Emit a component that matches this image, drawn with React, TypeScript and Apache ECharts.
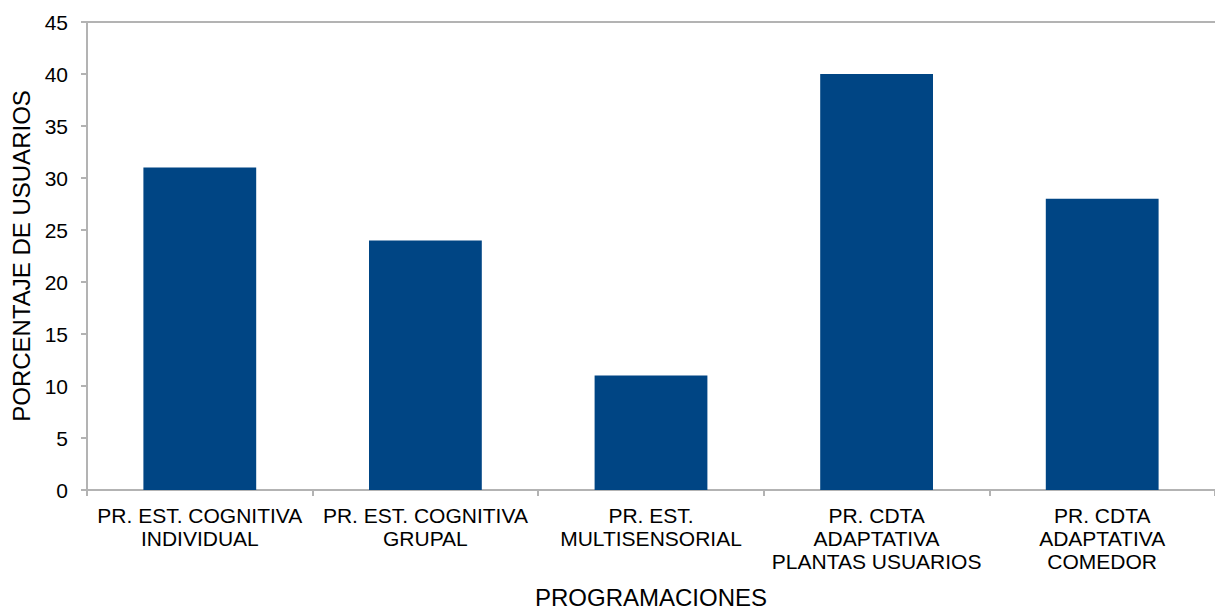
import React, { useEffect, useRef } from "react";
import * as echarts from "echarts";

const categories = [
  "PR. EST. COGNITIVA\nINDIVIDUAL",
  "PR. EST. COGNITIVA\nGRUPAL",
  "PR. EST.\nMULTISENSORIAL",
  "PR. CDTA\nADAPTATIVA\nPLANTAS USUARIOS",
  "PR. CDTA\nADAPTATIVA\nCOMEDOR",
];
const values = [31, 24, 11, 40, 28];
const yTicks = { min: 0, max: 45, interval: 5 };

export default function App() {
  const ref = useRef<HTMLDivElement>(null);
  useEffect(() => {
    if (!ref.current) return;
    const chart = echarts.init(ref.current, undefined, { renderer: "svg" });
    const font = "'Liberation Sans', Arial, sans-serif";
    const axisGray = "#b3b3b3";
    chart.setOption({
      animation: false,
      grid: { left: 87, top: 22, width: 1137.5, height: 473, containLabel: false },
      xAxis: [
        {
          type: "category",
          data: categories,
          position: "bottom",
          axisLine: { show: true, lineStyle: { color: axisGray, width: 2 } },
          axisTick: { show: true, length: 6, alignWithLabel: false, lineStyle: { color: axisGray, width: 2 } },
          axisLabel: { interval: 0, color: "#000", fontFamily: font, fontSize: 21, lineHeight: 23, margin: 14 },
          name: "PROGRAMACIONES",
          nameLocation: "middle",
          nameGap: 95,
          nameTextStyle: { color: "#000", fontFamily: font, fontSize: 24 },
        },
        {
          type: "category",
          data: categories,
          position: "top",
          axisLine: { show: true, lineStyle: { color: axisGray, width: 2 } },
          axisTick: { show: false },
          axisLabel: { show: false },
        },
      ],
      yAxis: {
        type: "value",
        min: yTicks.min,
        max: yTicks.max,
        interval: yTicks.interval,
        axisLine: { show: true, lineStyle: { color: axisGray, width: 2 } },
        axisTick: { show: true, length: 6, lineStyle: { color: axisGray, width: 2 } },
        splitLine: { show: false },
        axisLabel: { color: "#000", fontFamily: font, fontSize: 21, margin: 19 },
        name: "PORCENTAJE DE USUARIOS",
        nameLocation: "middle",
        nameGap: 53,
        nameTextStyle: { color: "#000", fontFamily: font, fontSize: 24 },
      },
      series: [
        { type: "bar", data: values, xAxisIndex: 0, barCategoryGap: "50%", itemStyle: { color: "#004584" } },
      ],
    });
    return () => chart.dispose();
  }, []);
  return (
    <div
      ref={ref}
      style={{ position: "absolute", left: 0, top: 0, width: 1215, height: 614, background: "#fff" }}
    />
  );
}
